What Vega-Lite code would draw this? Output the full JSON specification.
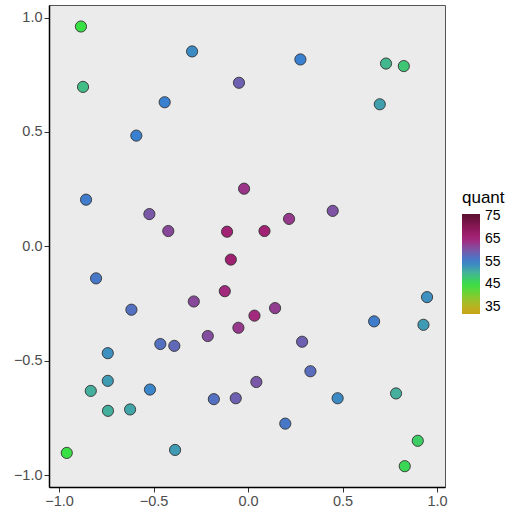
{
  "$schema": "https://vega.github.io/schema/vega-lite/v6.json",
  "autosize": {"type": "none"},
  "padding": {"left": 49, "top": 5, "right": 71, "bottom": 28},
  "width": 396,
  "height": 482,
  "background": "white",
  "config": {
    "font": "Liberation Sans",
    "view": {"fill": "#EBEBEB", "stroke": "#555555", "strokeWidth": 1},
    "axis": {"grid": false, "domainColor": "black", "domainWidth": 1.5, "tickColor": "#333333", "tickSize": 5, "labelFontSize": 14.5, "labelColor": "#4D4D4D", "labelPadding": 2, "title": null}
  },
  "data": {"values": [
    {"x": -0.884, "y": 0.961, "quant": 45},
    {"x": -0.873, "y": 0.697, "quant": 49},
    {"x": -0.296, "y": 0.852, "quant": 54},
    {"x": -0.048, "y": 0.715, "quant": 59},
    {"x": -0.441, "y": 0.630, "quant": 55},
    {"x": -0.591, "y": 0.484, "quant": 55},
    {"x": -0.857, "y": 0.204, "quant": 55.5},
    {"x": -0.021, "y": 0.252, "quant": 63.5},
    {"x": -0.522, "y": 0.141, "quant": 60},
    {"x": -0.422, "y": 0.067, "quant": 61.5},
    {"x": -0.111, "y": 0.064, "quant": 66},
    {"x": 0.087, "y": 0.067, "quant": 66},
    {"x": -0.091, "y": -0.058, "quant": 66.5},
    {"x": 0.277, "y": 0.817, "quant": 55},
    {"x": 0.730, "y": 0.799, "quant": 49.5},
    {"x": 0.824, "y": 0.788, "quant": 48},
    {"x": 0.697, "y": 0.621, "quant": 52},
    {"x": 0.217, "y": 0.120, "quant": 63},
    {"x": 0.448, "y": 0.155, "quant": 60.5},
    {"x": -0.804, "y": -0.140, "quant": 56},
    {"x": -0.123, "y": -0.196, "quant": 64.5},
    {"x": -0.287, "y": -0.241, "quant": 61.5},
    {"x": -0.617, "y": -0.277, "quant": 57},
    {"x": 0.034, "y": -0.303, "quant": 64.5},
    {"x": -0.051, "y": -0.356, "quant": 63},
    {"x": -0.213, "y": -0.392, "quant": 61},
    {"x": -0.464, "y": -0.427, "quant": 57},
    {"x": -0.390, "y": -0.435, "quant": 58},
    {"x": -0.742, "y": -0.467, "quant": 53.5},
    {"x": -0.742, "y": -0.588, "quant": 52.5},
    {"x": -0.832, "y": -0.632, "quant": 50.5},
    {"x": -0.519, "y": -0.626, "quant": 54.5},
    {"x": 0.044, "y": -0.593, "quant": 60},
    {"x": -0.181, "y": -0.668, "quant": 57},
    {"x": -0.065, "y": -0.664, "quant": 59},
    {"x": -0.741, "y": -0.719, "quant": 50.5},
    {"x": -0.624, "y": -0.713, "quant": 51.5},
    {"x": -0.959, "y": -0.903, "quant": 45},
    {"x": -0.386, "y": -0.890, "quant": 52.5},
    {"x": 0.947, "y": -0.222, "quant": 53.5},
    {"x": 0.143, "y": -0.270, "quant": 62.5},
    {"x": 0.667, "y": -0.328, "quant": 55.5},
    {"x": 0.928, "y": -0.343, "quant": 52.5},
    {"x": 0.286, "y": -0.417, "quant": 59},
    {"x": 0.330, "y": -0.546, "quant": 57.5},
    {"x": 0.474, "y": -0.664, "quant": 54},
    {"x": 0.783, "y": -0.643, "quant": 50.5},
    {"x": 0.197, "y": -0.775, "quant": 56},
    {"x": 0.898, "y": -0.850, "quant": 47},
    {"x": 0.829, "y": -0.961, "quant": 46}
  ]},
  "mark": {"type": "point", "filled": true, "size": 125, "stroke": "#333333", "strokeWidth": 0.9, "opacity": 1, "shape": "circle"},
  "encoding": {
    "x": {"field": "x", "type": "quantitative", "scale": {"domain": [-1.053, 1.042], "nice": false, "zero": false}, "axis": {"values": [-1, -0.5, 0, 0.5, 1], "format": ".1f"}},
    "y": {"field": "y", "type": "quantitative", "scale": {"domain": [-1.052, 1.055], "nice": false, "zero": false}, "axis": {"values": [-1, -0.5, 0, 0.5, 1], "format": ".1f"}},
    "color": {
      "field": "quant", "type": "quantitative",
      "scale": {"domain": [32, 35, 40, 45, 50, 55, 60, 65, 70, 76], "range": ["#c6a418", "#bfb020", "#80cc30", "#38e044", "#44b496", "#3a80d0", "#7a58a8", "#a8247a", "#8a1858", "#5a0f30"], "interpolate": "rgb"},
      "legend": {"orient": "none", "legendX": 413, "legendY": 185, "values": [35, 45, 55, 65, 75], "title": "quant", "titleFontSize": 17, "titleFontWeight": "normal", "titleColor": "black", "titlePadding": 7, "gradientLength": 100, "gradientThickness": 18, "labelFontSize": 14, "labelColor": "black", "labelOffset": 5, "tickCount": 5, "gradientStrokeWidth": 0}
    }
  }
}
